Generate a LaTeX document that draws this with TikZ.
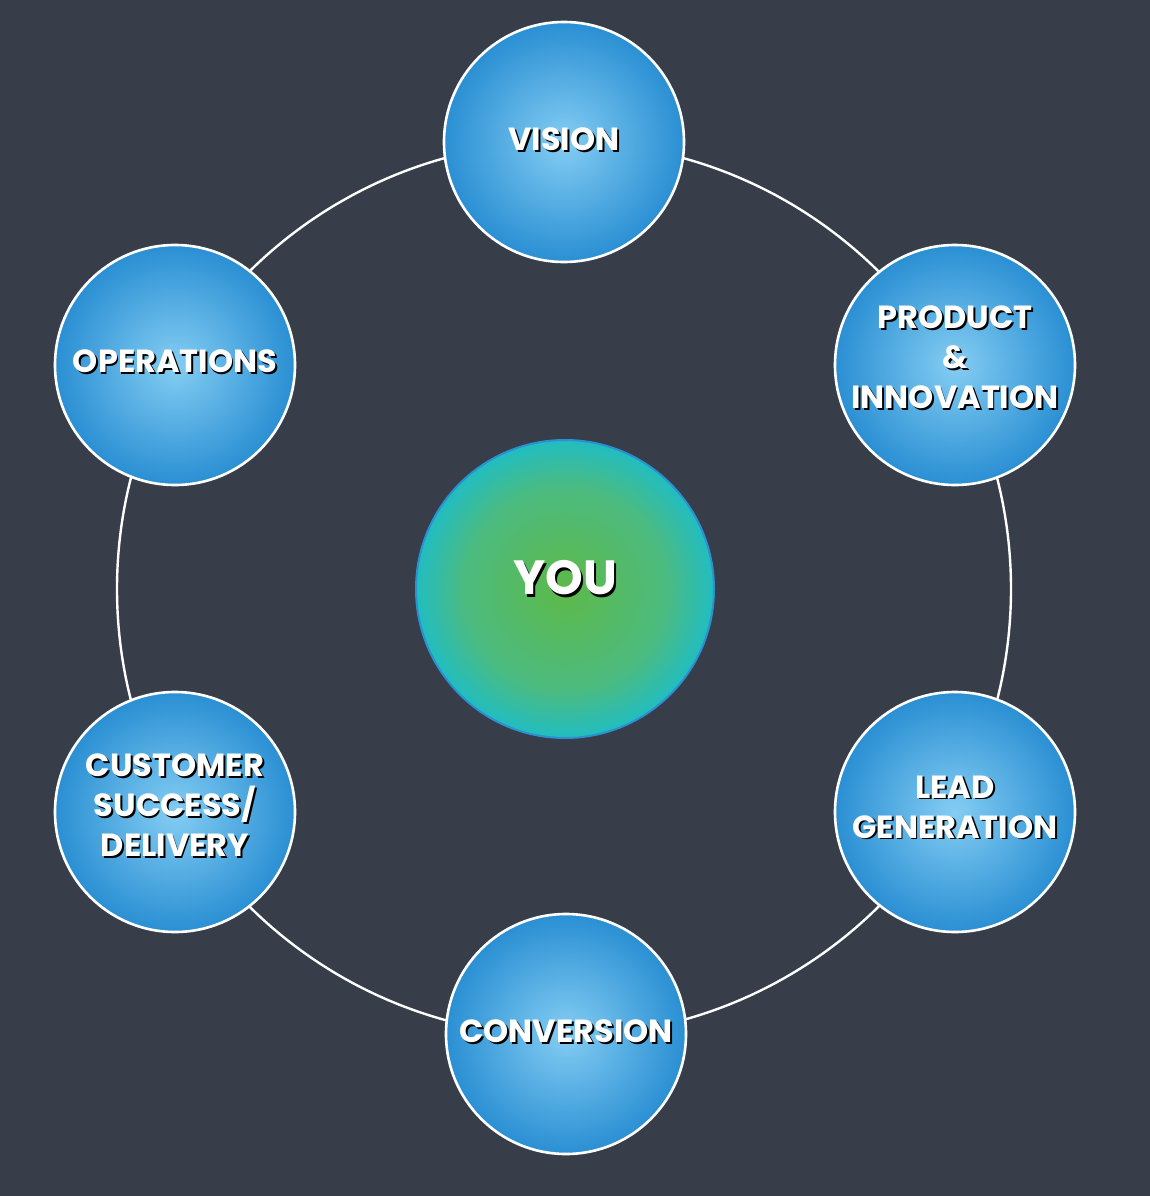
\documentclass[tikz,border=0pt]{standalone}
\usepackage{fontspec}
\setmainfont{Poppins}
\definecolor{bg}{HTML}{373D49}
\definecolor{blin}{HTML}{84CDF3}
\definecolor{blout}{HTML}{2A8FD3}
\definecolor{gin}{HTML}{5DB948}
\definecolor{gmid}{HTML}{4CBB80}
\definecolor{gout}{HTML}{21BDC1}
\definecolor{youedge}{HTML}{2C8FD0}
\pgfdeclareradialshading{bluesh}{\pgfpoint{0bp}{0bp}}{color(0bp)=(blin); color(25bp)=(blout); color(50bp)=(blout)}
\pgfdeclareradialshading{greensh}{\pgfpoint{0bp}{0bp}}{color(0bp)=(gin); color(17bp)=(gmid); color(25bp)=(gout); color(50bp)=(gout)}
\tikzset{
  topic/.style={circle, minimum size=240pt, inner sep=0pt, shading=bluesh, draw=white, line width=2.6pt},
  centre/.style={circle, minimum size=298pt, inner sep=0pt, shading=greensh, draw=youedge, line width=2pt},
  lbl/.style={text=white, font=\fontsize{32}{40}\selectfont\bfseries, align=center},
  shd/.style={text=black, font=\fontsize{32}{40}\selectfont\bfseries, align=center},
  youf/.style={font=\fontsize{48}{50}\selectfont\bfseries},
  ring/.style={draw=white, line width=2.4pt}
}
\begin{document}
\begin{tikzpicture}[x=1pt,y=-1pt]
\fill[bg] (0,0) rectangle (1150,1196);
\useasboundingbox (0,0) rectangle (1150,1196);
\coordinate (c) at (564,589);
\draw[ring] (c) circle[radius=447pt];
\node[topic] (vision) at (564,142) {};
\node[topic] (product) at (955,365) {};
\node[topic] (lead) at (955,812) {};
\node[topic] (conversion) at (566,1034) {};
\node[topic] (customer) at (175,812) {};
\node[topic] (operations) at (175,365) {};
\node[centre] (you) at (565,589) {};
% shadows
\node[shd] (visionS) at ([shift={(1.8,-1.2)}]vision) {VISION};
\node[shd] (productS) at ([shift={(1.8,-6.2)}]product) {PRODUCT\\\&\\INNOVATION};
\node[shd] (leadS) at ([shift={(1.8,-3.2)}]lead) {LEAD\\GENERATION};
\node[shd] (conversionS) at ([shift={(1.8,-1.2)}]conversion) {CONVERSION};
\node[shd] (customerS) at ([shift={(1.8,-5.2)}]customer) {CUSTOMER\\SUCCESS/\\DELIVERY};
\node[shd] (operationsS) at ([shift={(1.8,-2.2)}]operations) {OPERATIONS};
\node[shd, youf] (youS) at ([shift={(2.5,-8.5)}]you) {YOU};
% labels
\node[lbl] (visionT) at ([shift={(0,-3)}]vision) {VISION};
\node[lbl] (productT) at ([shift={(0,-8)}]product) {PRODUCT\\\&\\INNOVATION};
\node[lbl] (leadT) at ([shift={(0,-5)}]lead) {LEAD\\GENERATION};
\node[lbl] (conversionT) at ([shift={(0,-3)}]conversion) {CONVERSION};
\node[lbl] (customerT) at ([shift={(0,-7)}]customer) {CUSTOMER\\SUCCESS/\\DELIVERY};
\node[lbl] (operationsT) at ([shift={(0,-4)}]operations) {OPERATIONS};
\node[lbl, youf] (youT) at ([shift={(0,-11)}]you) {YOU};
\end{tikzpicture}
\end{document}
